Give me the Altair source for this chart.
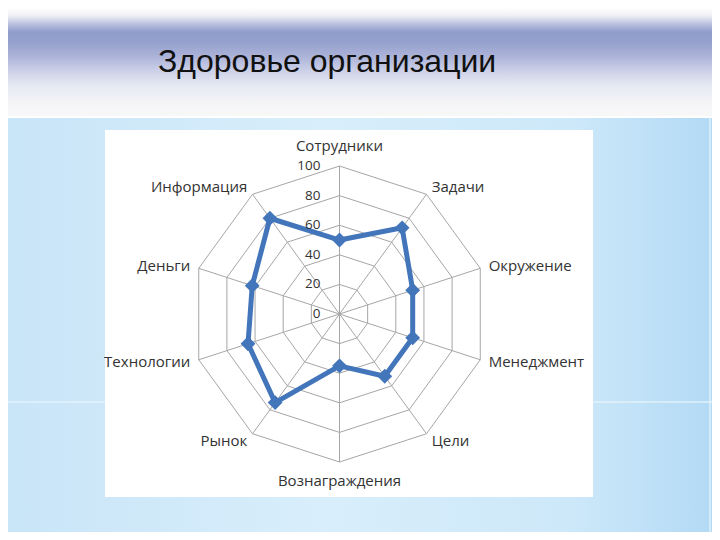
import altair as alt
import pandas as pd

# ---- data ----
title_text = "Здоровье организации"
categories = ["Сотрудники", "Задачи", "Окружение", "Менеджмент", "Цели",
              "Вознаграждения", "Рынок", "Технологии", "Деньги", "Информация"]
values = [50, 72, 52, 52, 52, 35, 74, 65, 62, 80]
ring_levels = [0, 20, 40, 60, 80, 100]
ring_labels = ["0", "20", "40", "60", "80", "100"]

n = len(categories)
series_df = pd.DataFrame({
    "cat": categories + [categories[0]],
    "idx": list(range(n)) + [n],
    "value": values + [values[0]],
})
points_df = pd.DataFrame({"cat": categories, "idx": list(range(n)), "value": values})
rings_df = pd.DataFrame([
    {"level": lv, "idx": i} for lv in ring_levels[1:] for i in range(n + 1)
])
spokes_df = pd.DataFrame({"idx": list(range(n))})
labels_df = pd.DataFrame({"cat": categories, "idx": list(range(n))})
ringlab_df = pd.DataFrame({"level": ring_levels, "label": ring_labels})

ANG = "datum.idx * 2 * PI / 10"
W, H = 704, 524

xs = alt.Scale(domain=[-224.0, 251.7], nice=False, zero=False)
ys = alt.Scale(domain=[-147.3, 206.8], nice=False, zero=False)
X = lambda f: alt.X(f, type="quantitative", scale=xs, axis=None)
Y = lambda f: alt.Y(f, type="quantitative", scale=ys, axis=None)

one = alt.Data(values=[{"a": 1}])

# ---- decorations ----
header = alt.Chart(one).mark_rect(
    color=alt.Gradient(
        gradient="linear", x1=0, x2=0, y1=0, y2=1,
        stops=[
            alt.GradientStop(color="#ffffff", offset=0.0),
            alt.GradientStop(color="#f0f0f5", offset=0.07),
            alt.GradientStop(color="#bfc5e1", offset=0.14),
            alt.GradientStop(color="#8f9bca", offset=0.22),
            alt.GradientStop(color="#97a1ce", offset=0.32),
            alt.GradientStop(color="#adb4d9", offset=0.45),
            alt.GradientStop(color="#cdd1e8", offset=0.58),
            alt.GradientStop(color="#e8eaf3", offset=0.72),
            alt.GradientStop(color="#f5f5f8", offset=0.88),
            alt.GradientStop(color="#f8f8f8", offset=1.0),
        ],
    )
).encode(x=alt.value(0), x2=alt.value(W), y=alt.value(0), y2=alt.value(109))

body = alt.Chart(one).mark_rect(
    color=alt.Gradient(
        gradient="linear", x1=0, x2=1, y1=0, y2=0,
        stops=[
            alt.GradientStop(color="#c9e5f8", offset=0.0),
            alt.GradientStop(color="#d8eefb", offset=0.45),
            alt.GradientStop(color="#cde8f9", offset=0.8),
            alt.GradientStop(color="#b3daf5", offset=1.0),
        ],
    )
).encode(x=alt.value(0), x2=alt.value(W), y=alt.value(109), y2=alt.value(H))

streak_h = alt.Chart(one).mark_rule(color="#eaf5fc", strokeWidth=1.5, opacity=0.8).encode(
    x=alt.value(0), x2=alt.value(W), y=alt.value(394))
streak_v = alt.Chart(one).mark_rule(color="#eaf5fc", strokeWidth=1.5, opacity=0.8).encode(
    x=alt.value(W - 2), y=alt.value(109), y2=alt.value(H))
top_line = alt.Chart(one).mark_rule(color="#ffffff", strokeWidth=2).encode(
    x=alt.value(0), x2=alt.value(W), y=alt.value(109))

white_box = alt.Chart(one).mark_rect(color="#ffffff").encode(
    x=alt.value(97), x2=alt.value(585), y=alt.value(122), y2=alt.value(489))

# ---- radar ----
rings = alt.Chart(rings_df).transform_calculate(
    x=f"datum.level * sin({ANG})", y=f"datum.level * cos({ANG})"
).mark_line(color="#a6a6a6", strokeWidth=1).encode(
    x=X("x"), y=Y("y"), detail="level:N", order="idx:Q")

spokes = alt.Chart(spokes_df).transform_calculate(
    x=f"100 * sin({ANG})", y=f"100 * cos({ANG})", cx="0", cy="0"
).mark_rule(color="#a6a6a6", strokeWidth=1).encode(
    x=X("cx"), y=Y("cy"), x2="x:Q", y2="y:Q")

line = alt.Chart(series_df).transform_calculate(
    x=f"datum.value * sin({ANG})", y=f"datum.value * cos({ANG})"
).mark_line(color="#4375ba", strokeWidth=5, strokeJoin="round").encode(
    x=X("x"), y=Y("y"), order="idx:Q")

pts = alt.Chart(points_df).transform_calculate(
    x=f"datum.value * sin({ANG})", y=f"datum.value * cos({ANG})"
).mark_point(shape="diamond", filled=True, size=220, color="#4375ba", opacity=1).encode(
    x=X("x"), y=Y("y"))

FONT = "Open Sans"
LABCOL = "#333333"

def cat_layer(filt, align, r):
    return alt.Chart(labels_df).transform_filter(filt).transform_calculate(
        x=f"{r} * sin({ANG})", y=f"{r} * cos({ANG})"
    ).mark_text(align=align, baseline="middle", font=FONT, fontSize=15, color=LABCOL).encode(
        x=X("x"), y=Y("y"), text="cat:N")

lab_top = cat_layer("datum.idx == 0", "center", 113.5)
lab_bot = cat_layer("datum.idx == 5", "center", 113)
lab_left = cat_layer("datum.idx > 0 && datum.idx < 5", "left", 106)
lab_right = cat_layer("datum.idx > 5", "right", 106)

ring_text = alt.Chart(ringlab_df).transform_calculate(zero="0").mark_text(
    align="right", baseline="middle", dx=-19, font=FONT, fontSize=13.5, color=LABCOL
).encode(x=X("zero"), y=Y("level"), text="label:N")

title = alt.Chart(one).mark_text(
    align="left", baseline="alphabetic", font="Liberation Sans", fontSize=32, color="#111111"
).encode(x=alt.value(150), y=alt.value(64), text=alt.value(title_text))

chart = alt.layer(
    body, header, top_line, streak_h, streak_v, white_box,
    rings, spokes, line, pts,
    lab_top, lab_bot, lab_left, lab_right, ring_text, title
).properties(
    width=W, height=H,
    autosize=alt.AutoSizeParams(type="none"),
    padding=0,
    background="#ffffff",
).configure_view(strokeWidth=0)

chart.save("out.html", embed_options={"renderer": "svg", "actions": False})
